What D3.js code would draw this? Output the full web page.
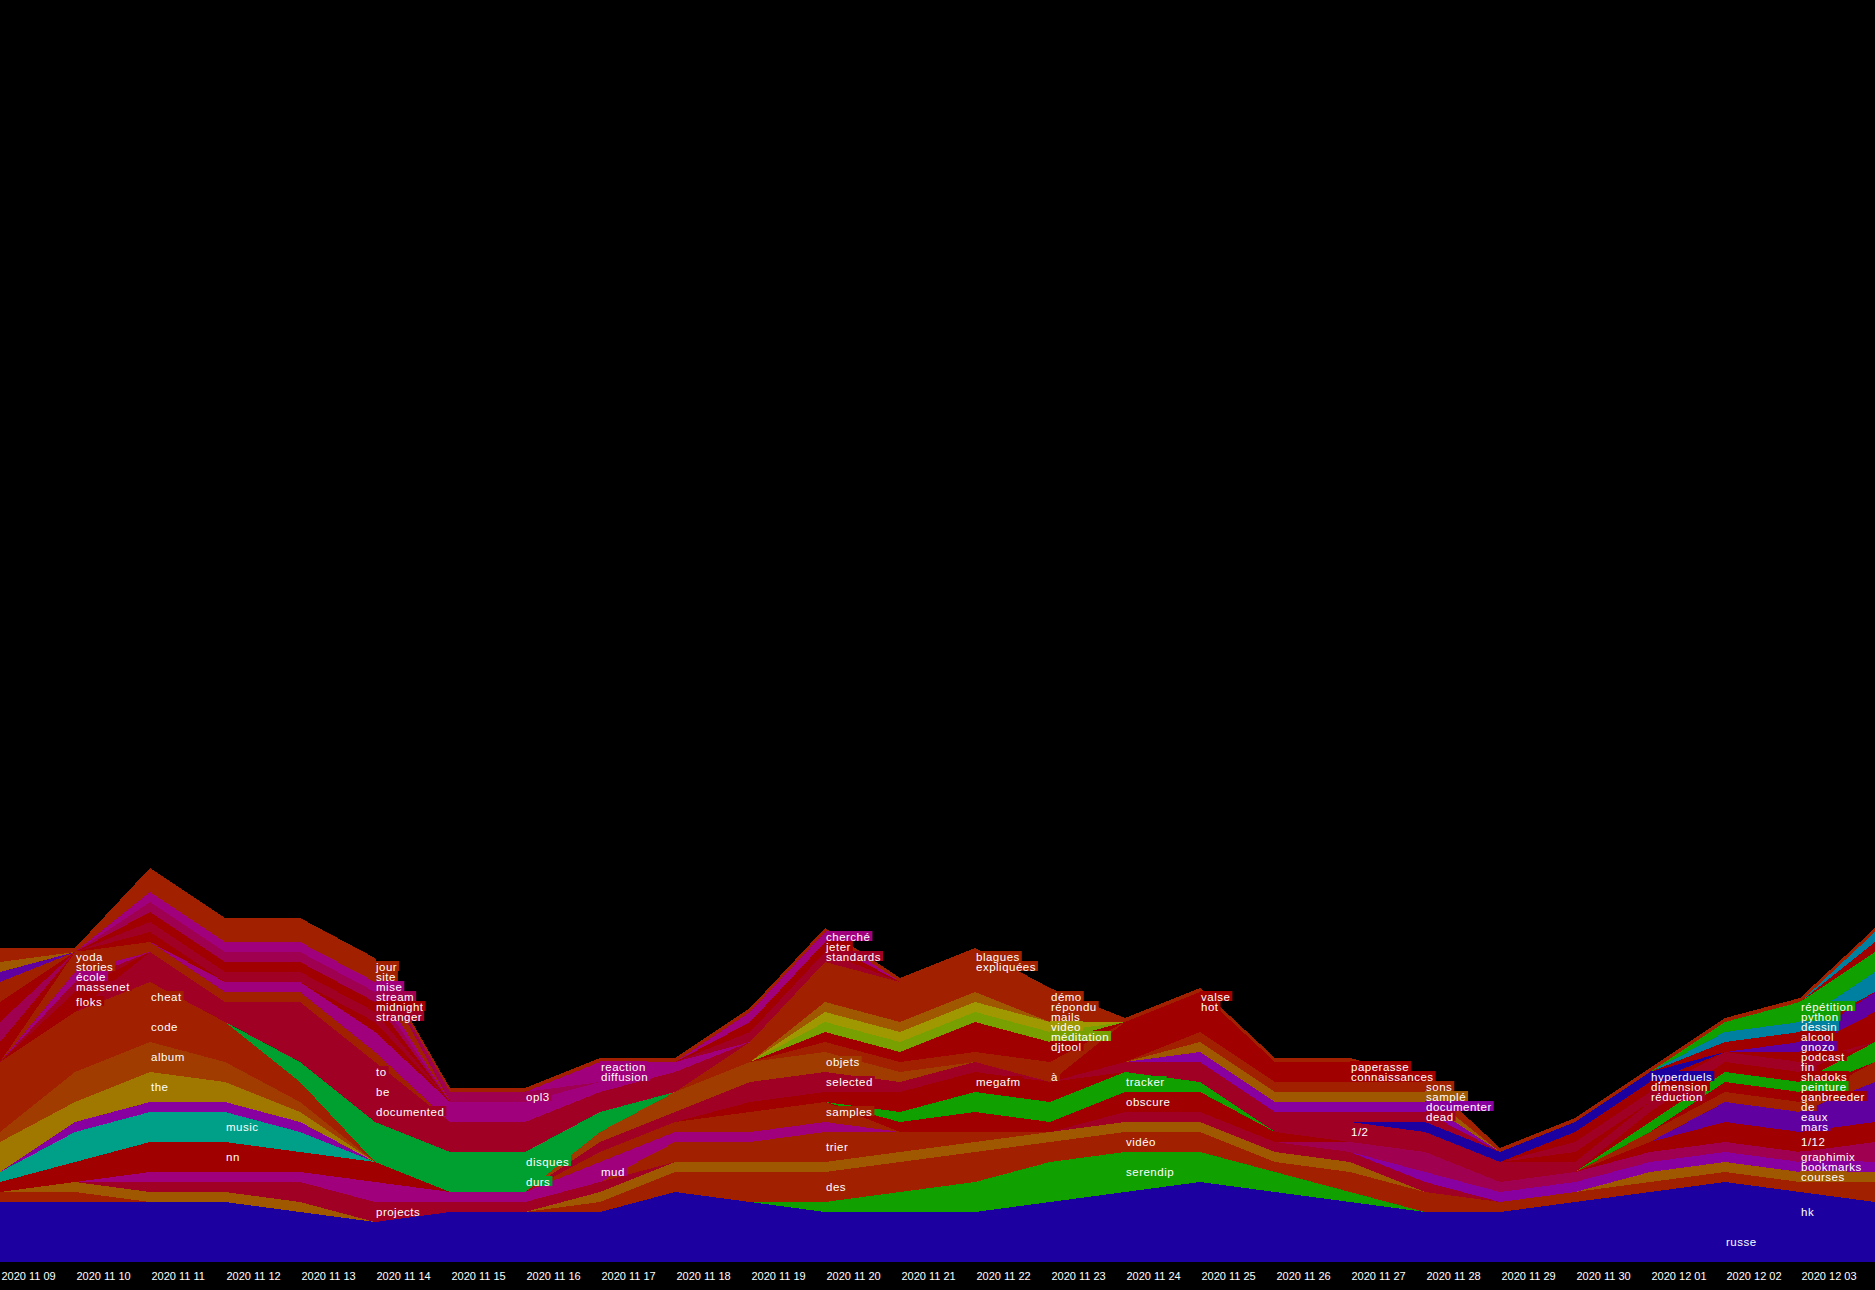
<!DOCTYPE html>
<html><head><meta charset="utf-8">
<script src="https://cdn.jsdelivr.net/npm/d3@7"></script>
<style>
html,body{margin:0;padding:0;background:#000;}
svg{display:block;background:#000;}
</style></head><body>
<svg id="chart" width="1875" height="1290"></svg>
<script>
// ---------- DATA ----------
const days = ["2020 11 09","2020 11 10","2020 11 11","2020 11 12","2020 11 13","2020 11 14","2020 11 15","2020 11 16","2020 11 17","2020 11 18","2020 11 19","2020 11 20","2020 11 21","2020 11 22","2020 11 23","2020 11 24","2020 11 25","2020 11 26","2020 11 27","2020 11 28","2020 11 29","2020 11 30","2020 12 01","2020 12 02","2020 12 03"];
const dayCount = 26; // last point (2020 12 04) sits on the right edge

// stacking order, bottom -> top (groups concatenated)
const baseWords = ["russe","hk","serendip","des","vidéo","courses","projects","trier","mud"];
const baseCounts = [
 [6,6,6,6,5,4,5,5,5,7,6,5,5,5,6,7,8,7,6,5,5,6,4,4,3,3],
 [0,0,0,0,0,0,0,0,0,0,0,0,0,0,0,0,0,0,0,0,0,0,3,4,4,3],
 [0,0,0,0,0,0,0,0,0,0,0,1,2,3,4,4,3,2,1,0,0,0,0,0,0,0],
 [1,1,0,0,0,0,0,0,1,2,3,3,3,3,2,0,0,0,0,0,0,0,0,0,0,0],
 [0,0,0,0,0,0,0,0,0,0,0,0,0,0,0,2,2,1,2,2,1,1,1,1,1,2],
 [0,1,1,1,1,0,0,0,1,1,1,1,1,1,1,1,1,1,1,0,0,0,1,1,1,1],
 [0,0,1,1,2,2,1,1,1,0,0,0,0,0,0,0,0,0,0,0,0,0,0,0,0,0],
 [0,0,0,0,0,0,0,0,0,2,2,3,2,1,0,0,0,0,0,0,0,0,0,0,0,0],
 [0,0,1,1,1,2,1,1,2,1,1,1,0,0,0,0,0,0,0,0,0,0,0,0,0,0]
];
const leftLowWords = ["nn","music","·p1","the","album","code","cheat"];
const leftLowCounts = [
 [1,2,3,3,2,2,0,0,0,0,0,0,0,0,0,0,0,0,0,0,0,0,0,0,0,0],
 [1,3,3,3,2,0,0,0,0,0,0,0,0,0,0,0,0,0,0,0,0,0,0,0,0,0],
 [0,1,1,1,1,0,0,0,0,0,0,0,0,0,0,0,0,0,0,0,0,0,0,0,0,0],
 [3,2,3,2,1,0,0,0,0,0,0,0,0,0,0,0,0,0,0,0,0,0,0,0,0,0],
 [1,3,3,2,1,0,0,0,0,0,0,0,0,0,0,0,0,0,0,0,0,0,0,0,0,0],
 [7,6,3,2,1,0,0,0,0,0,0,0,0,0,0,0,0,0,0,0,0,0,0,0,0,0],
 [0,0,3,2,1,0,0,0,0,0,0,0,0,0,0,0,0,0,0,0,0,0,0,0,0,0]
];
const rightLowWords = ["·k1","bookmarks","graphimix"];
const rightLowCounts = [
 [0,0,0,0,0,0,0,0,0,0,0,0,0,0,0,1,1,1,1,1,0,0,0,0,0,0],
 [0,0,0,0,0,0,0,0,0,0,0,0,0,0,0,0,0,0,0,1,1,1,1,1,1,1],
 [0,0,0,0,0,0,0,0,0,0,0,0,0,0,0,0,0,0,1,2,1,1,1,1,1,2]
];
const midLowWords = ["samples","obscure","tracker","megafm","selected","objets"];
const midLowCounts = [
 [0,0,0,0,0,0,0,0,1,1,2,2,0,0,0,0,0,0,0,0,0,0,0,0,0,0],
 [0,0,0,0,0,0,0,0,0,0,0,0,1,2,1,2,2,1,0,0,0,0,0,0,0,0],
 [0,0,0,0,0,0,0,0,0,0,0,0,1,2,2,2,1,0,0,0,0,0,0,0,0,0],
 [0,0,0,0,0,0,0,0,0,0,1,1,2,2,2,0,0,0,0,0,0,0,0,0,0,0],
 [0,0,0,0,0,0,0,0,1,1,2,2,1,1,0,0,0,0,0,0,0,0,0,0,0,0],
 [0,0,0,0,0,0,0,0,1,2,2,2,1,0,0,0,0,0,0,0,0,0,0,0,0,0]
];
const rightWords = ["1/2","1/12","mars","eaux","de","ganbreeder","peinture","shadoks","fin","podcast","réduction","dimension","hyperduels","gnozo","alcool","dessin","python","répétition","·r1","·c1"];
const rightCounts = [
 [0,0,0,0,0,0,0,0,0,0,0,0,0,0,0,0,1,1,2,2,2,0,0,0,0,0],
 [0,0,0,0,0,0,0,0,0,0,0,0,0,0,0,0,0,0,0,0,0,0,1,2,2,2],
 [0,0,0,0,0,0,0,0,0,0,0,0,0,0,0,0,0,0,0,0,0,0,0,1,1,2],
 [0,0,0,0,0,0,0,0,0,0,0,0,0,0,0,0,0,0,0,0,0,0,0,1,1,2],
 [0,0,0,0,0,0,0,0,0,0,0,0,0,0,0,0,0,0,0,0,0,0,1,1,1,2],
 [0,0,0,0,0,0,0,0,0,0,0,0,0,0,0,0,0,0,0,0,0,0,0,1,1,0],
 [0,0,0,0,0,0,0,0,0,0,0,0,0,0,0,0,0,0,0,0,0,0,1,1,1,2],
 [0,0,0,0,0,0,0,0,0,0,0,0,0,0,0,0,0,0,0,0,0,0,1,1,1,0],
 [0,0,0,0,0,0,0,0,0,0,0,0,0,0,0,0,0,0,0,0,0,1,1,1,1,0],
 [0,0,0,0,0,0,0,0,0,0,0,0,0,0,0,0,0,0,0,0,0,1,0,0,1,3],
 [0,0,0,0,0,0,0,0,0,0,0,0,0,0,0,0,0,0,0,0,0,1,1,0,0,0],
 [0,0,0,0,0,0,0,0,0,0,0,0,0,0,0,0,0,0,0,0,0,1,1,0,0,0],
 [0,0,0,0,0,0,0,0,0,0,0,0,0,0,0,0,0,0,0,1,1,1,1,0,0,0],
 [0,0,0,0,0,0,0,0,0,0,0,0,0,0,0,0,0,0,0,0,0,0,0,0,1,2],
 [0,0,0,0,0,0,0,0,0,0,0,0,0,0,0,0,0,0,0,0,0,0,0,1,1,0],
 [0,0,0,0,0,0,0,0,0,0,0,0,0,0,0,0,0,0,0,0,0,0,0,1,1,2],
 [0,0,0,0,0,0,0,0,0,0,0,0,0,0,0,0,0,0,0,0,0,0,0,1,1,2],
 [0,0,0,0,0,0,0,0,0,0,0,0,0,0,0,0,0,0,0,0,0,0,0,0,1,0],
 [0,0,0,0,0,0,0,0,0,0,0,0,0,0,0,0,0,0,0,0,0,0,0,0,0,1],
 [0,0,0,0,0,0,0,0,0,0,0,0,0,0,0,0,0,0,0,0,0,0,0,0,0,1]
];
const rightTopWords = ["dead","documenter","samplé","sons","connaissances","paperasse","hot","valse"];
const rightTopCounts = [
 [0,0,0,0,0,0,0,0,0,0,0,0,0,0,0,1,1,1,1,1,0,0,0,0,0,0],
 [0,0,0,0,0,0,0,0,0,0,0,0,0,0,0,0,1,1,1,1,0,0,0,0,0,0],
 [0,0,0,0,0,0,0,0,0,0,0,0,0,0,0,0,1,1,1,1,0,0,0,0,0,0],
 [0,0,0,0,0,0,0,0,0,0,0,0,0,0,0,0,1,1,1,1,0,0,0,0,0,0],
 [0,0,0,0,0,0,0,0,0,0,0,0,0,0,0,1,1,1,1,0,0,0,0,0,0,0],
 [0,0,0,0,0,0,0,0,0,0,0,0,0,0,0,1,1,1,1,0,0,0,0,0,0,0],
 [0,0,0,0,0,0,0,0,0,0,0,0,0,0,0,1,1,0,0,0,0,0,0,0,0,0],
 [0,0,0,0,0,0,0,0,0,0,0,0,0,0,0,1,1,0,0,0,0,0,0,0,0,0]
];
const midTopWords = ["à","·r2","·r3","djtool","méditation","video","·o1","·r4","mails","répondu","démo","expliquées","blagues"];
const midTopCounts = [
 [0,0,0,0,0,0,0,0,0,0,0,1,1,1,1,0,0,0,0,0,0,0,0,0,0,0],
 [0,0,0,0,0,0,0,0,0,0,0,0,0,0,1,0,0,0,0,0,0,0,0,0,0,0],
 [0,0,0,0,0,0,0,0,0,0,0,0,0,0,1,0,0,0,0,0,0,0,0,0,0,0],
 [0,0,0,0,0,0,0,0,0,0,0,1,1,3,1,0,0,0,0,0,0,0,0,0,0,0],
 [0,0,0,0,0,0,0,0,0,0,0,1,1,1,1,0,0,0,0,0,0,0,0,0,0,0],
 [0,0,0,0,0,0,0,0,0,0,0,1,1,1,1,0,0,0,0,0,0,0,0,0,0,0],
 [0,0,0,0,0,0,0,0,0,0,0,1,1,1,0,0,0,0,0,0,0,0,0,0,0,0],
 [0,0,0,0,0,0,0,0,0,0,2,4,2,2,0,0,0,0,0,0,0,0,0,0,0,0],
 [0,0,0,0,0,0,0,0,0,0,0,0,0,0,1,0,0,0,0,0,0,0,0,0,0,0],
 [0,0,0,0,0,0,0,0,0,0,0,0,0,0,1,0,0,0,0,0,0,0,0,0,0,0],
 [0,0,0,0,0,0,0,0,0,0,0,0,0,0,1,0,0,0,0,0,0,0,0,0,0,0],
 [0,0,0,0,0,0,0,0,0,0,0,0,1,1,0,0,0,0,0,0,0,0,0,0,0,0],
 [0,0,0,0,0,0,0,0,0,0,0,0,1,1,0,0,0,0,0,0,0,0,0,0,0,0]
];
const leftTopWords = ["durs","disques","documented","be","to","floks","massenet","école","stories","yoda","·x1","·x2","·x3","·x4","·x5","·x6","·x7","·r5","·m1","·r6","stranger","midnight","stream","mise","site","jour","opl3","diffusion","reaction"];
const leftTopCounts = [
 [0,0,0,0,1,2,2,2,1,0,0,0,0,0,0,0,0,0,0,0,0,0,0,0,0,0],
 [0,0,0,0,1,2,2,2,1,0,0,0,0,0,0,0,0,0,0,0,0,0,0,0,0,0],
 [0,0,1,1,2,2,1,1,1,0,0,0,0,0,0,0,0,0,0,0,0,0,0,0,0,0],
 [0,0,1,1,2,2,1,1,1,1,0,0,0,0,0,0,0,0,0,0,0,0,0,0,0,0],
 [0,0,1,0,2,2,1,1,0,1,0,0,0,0,0,0,0,0,0,0,0,0,0,0,0,0],
 [0,2,0,0,0,0,0,0,0,0,0,0,0,0,0,0,0,0,0,0,0,0,0,0,0,0],
 [0,1,0,0,0,0,0,0,0,0,0,0,0,0,0,0,0,0,0,0,0,0,0,0,0,0],
 [0,1,0,0,0,0,0,0,0,0,0,0,0,0,0,0,0,0,0,0,0,0,0,0,0,0],
 [0,1,0,0,0,0,0,0,0,0,0,0,0,0,0,0,0,0,0,0,0,0,0,0,0,0],
 [0,1,0,0,0,0,0,0,0,0,0,0,0,0,0,0,0,0,0,0,0,0,0,0,0,0],
 [2,0,0,0,0,0,0,0,0,0,0,0,0,0,0,0,0,0,0,0,0,0,0,0,0,0],
 [2,0,0,0,0,0,0,0,0,0,0,0,0,0,0,0,0,0,0,0,0,0,0,0,0,0],
 [2,0,0,0,0,0,0,0,0,0,0,0,0,0,0,0,0,0,0,0,0,0,0,0,0,0],
 [2,0,0,0,0,0,0,0,0,0,0,0,0,0,0,0,0,0,0,0,0,0,0,0,0,0],
 [1,0,0,0,0,0,0,0,0,0,0,0,0,0,0,0,0,0,0,0,0,0,0,0,0,0],
 [1,0,0,0,0,0,0,0,0,0,0,0,0,0,0,0,0,0,0,0,0,0,0,0,0,0],
 [1,0,0,0,0,0,0,0,0,0,0,0,0,0,0,0,0,0,0,0,0,0,0,0,0,0],
 [0,0,1,1,1,1,0,0,0,0,0,0,0,0,0,0,0,0,0,0,0,0,0,0,0,0],
 [0,0,0,1,1,2,2,2,1,0,0,0,0,0,0,0,0,0,0,0,0,0,0,0,0,0],
 [0,0,1,0,0,1,0,0,0,0,0,0,0,0,0,0,0,0,0,0,0,0,0,0,0,0],
 [0,0,1,1,1,1,0,0,0,0,0,0,0,0,0,0,0,0,0,0,0,0,0,0,0,0],
 [0,0,1,1,1,1,0,0,0,0,0,0,0,0,0,0,0,0,0,0,0,0,0,0,0,0],
 [0,0,1,1,1,1,0,0,0,0,0,0,0,0,0,0,0,0,0,0,0,0,0,0,0,0],
 [0,0,1,1,1,1,0,0,0,0,0,0,0,0,0,0,0,0,0,0,0,0,0,0,0,0],
 [0,0,1,1,1,1,0,0,0,0,0,0,0,0,0,0,0,0,0,0,0,0,0,0,0,0],
 [0,0,1,1,1,1,0,0,0,0,0,0,0,0,0,0,0,0,0,0,0,0,0,0,0,0],
 [0,0,0,0,0,0,1,1,0,0,0,0,0,0,0,0,0,0,0,0,0,0,0,0,0,0],
 [0,0,0,0,0,0,0,0,1,0,0,0,0,0,0,0,0,0,0,0,0,0,0,0,0,0],
 [0,0,0,0,0,0,0,0,1,1,0,0,0,0,0,0,0,0,0,0,0,0,0,0,0,0]
];
const topWords = ["standards","jeter","cherché","·edge"];
const topCounts = [
 [0,0,0,0,0,0,0,0,0,0,1,1,0,0,0,0,0,0,0,0,0,0,0,0,0,0],
 [0,0,0,0,0,0,0,0,0,0,1,1,0,0,0,0,0,0,0,0,0,0,0,0,0,0],
 [0,0,0,0,0,0,0,0,0,0,1,1,0,0,0,0,0,0,0,0,0,0,0,0,0,0],
 [0.4,0.4,0.4,0.4,0.4,0.4,0.4,0.4,0.4,0.4,0.4,0.4,0.4,0.4,0.4,0.4,0.4,0.4,0.4,0.4,0.4,0.4,0.4,0.4,0.4,0.4]
];

// which day each word's label is written at
const labelDays = [["yoda",1],["stories",1],["école",1],["massenet",1],["floks",1],["cheat",2],["code",2],["album",2],["the",2],["music",3],["nn",3],["jour",5],["site",5],["mise",5],["stream",5],["midnight",5],["stranger",5],["to",5],["be",5],["documented",5],["projects",5],["opl3",7],["disques",7],["durs",7],["reaction",8],["diffusion",8],["mud",8],["cherché",11],["jeter",11],["standards",11],["objets",11],["selected",11],["samples",11],["trier",11],["des",11],["blagues",13],["expliquées",13],["megafm",13],["démo",14],["répondu",14],["mails",14],["video",14],["méditation",14],["djtool",14],["à",14],["tracker",15],["obscure",15],["vidéo",15],["serendip",15],["valse",16],["hot",16],["paperasse",18],["connaissances",18],["1/2",18],["sons",19],["samplé",19],["documenter",19],["dead",19],["hyperduels",22],["dimension",22],["réduction",22],["russe",23],["répétition",24],["python",24],["dessin",24],["alcool",24],["gnozo",24],["podcast",24],["fin",24],["shadoks",24],["peinture",24],["ganbreeder",24],["de",24],["eaux",24],["mars",24],["1/12",24],["graphimix",24],["bookmarks",24],["courses",24],["hk",24]];

// ---------- STYLE ----------
const palette = {B:"#1c00a0",R:"#a02000",RD:"#a00000",CR:"#a00024",PK:"#a00050",MG:"#a0007c",PU:"#8800a0",VI:"#6000a0",OR:"#a05800",OB:"#a03c00",OL:"#a07800",YO:"#a09800",YG:"#78a000",G:"#00a030",G2:"#10a000",TE:"#00a088",CY:"#0080a0"};
const baseColors = ["B","B","G2","R","R","OR","CR","R","MG"];
const leftLowColors = ["RD","TE","PU","OL","OB","R","R"];
const rightLowColors = ["CR","PU","PK"];
const midLowColors = ["R","RD","G2","RD","CR","OB"];
const rightColors = ["CR","RD","VI","VI","R","RD","G2","RD","CR","RD","CR","RD","B","VI","RD","CY","G2","G2","RD","CY"];
const rightTopColors = ["CR","PU","OR","R","RD","RD","RD","RD"];
const midTopColors = ["R","R","RD","RD","YG","YO","OR","R","R","R","R","R","R"];
const leftTopColors = ["G","G","CR","CR","CR","RD","CR","MG","R","R","RD","PK","RD","R","VI","OR","R","R","MG","RD","CR","RD","PK","MG","R","R","PK","MG","MG"];
const topColors = ["CR","RD","MG","R"];

// ---------- BUILD ----------
const groups = [
 [baseWords, baseCounts, baseColors],
 [leftLowWords, leftLowCounts, leftLowColors],
 [rightLowWords, rightLowCounts, rightLowColors],
 [midLowWords, midLowCounts, midLowColors],
 [rightWords, rightCounts, rightColors],
 [rightTopWords, rightTopCounts, rightTopColors],
 [midTopWords, midTopCounts, midTopColors],
 [leftTopWords, leftTopCounts, leftTopColors],
 [topWords, topCounts, topColors]
];
const words = [], countOf = {}, colorOf = {};
groups.forEach(([w, c, k]) => w.forEach((name, i) => {
  words.push(name); countOf[name] = c[i]; colorOf[name] = palette[k[i]];
}));

const rows = d3.range(dayCount).map(d => {
  const r = {day: d};
  words.forEach(w => r[w] = countOf[w][d]);
  return r;
});
const series = d3.stack().keys(words).order(d3.stackOrderNone).offset(d3.stackOffsetNone)(rows);

const W = 1875, H = 1290, base = 1262;
const x = d3.scaleLinear().domain([0, dayCount - 1]).range([0, W]);
const y = d3.scaleLinear().domain([0, base / 10]).range([base, 0]);

const svg = d3.select("#chart");
svg.append("rect").attr("width", W).attr("height", H).attr("fill", "#000");

const area = d3.area()
  .x(d => x(d.data.day))
  .y0(d => y(d[0]))
  .y1(d => y(d[1]));

svg.append("g").selectAll("path").data(series).join("path")
  .attr("d", area)
  .attr("fill", s => colorOf[s.key])
  .attr("shape-rendering", "crispEdges");

// x axis: date labels, left aligned at each day
const axis = d3.axisBottom(x)
  .tickValues(d3.range(days.length))
  .tickFormat(i => days[i])
  .tickSize(0).tickPadding(0);
const gx = svg.append("g").attr("transform", `translate(0,${base})`).call(axis);
gx.select(".domain").remove();
gx.attr("font-family", "'Liberation Sans', Arial, sans-serif").attr("font-size", 11);
gx.selectAll(".tick text")
  .attr("text-anchor", "start").attr("x", 1).attr("y", 18).attr("dy", null)
  .attr("fill", "#fff");

// word labels with background in the word's colour
const byKey = new Map(series.map(s => [s.key, s]));
const labelG = svg.append("g");
const rectG = labelG.append("g");
const textG = labelG.append("g")
  .attr("font-family", "'Liberation Sans', Arial, sans-serif")
  .attr("font-size", 11.5).attr("fill", "#fff")
  .style("letter-spacing", "0.5px");
labelDays.forEach(([w, d]) => {
  const s = byKey.get(w)[d];
  const cy = y((s[0] + s[1]) / 2);
  const t = textG.append("text").attr("x", x(d) + 1).attr("y", cy + 3.5).text(w);
  const tw = t.node().getComputedTextLength();
  rectG.append("rect")
    .attr("x", x(d)).attr("y", cy - 6)
    .attr("width", tw + 3).attr("height", 10)
    .attr("fill", colorOf[w]);
});
</script>
</body></html>
